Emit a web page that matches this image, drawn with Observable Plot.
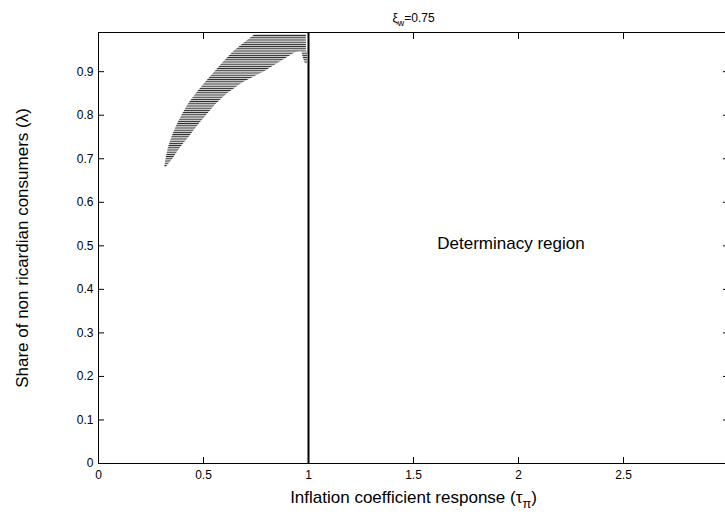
<!DOCTYPE html>
<html><head><meta charset="utf-8">
<script src="https://cdn.jsdelivr.net/npm/d3@7"></script>
<script src="https://cdn.jsdelivr.net/npm/@observablehq/plot@0.6"></script>
<style>html,body{margin:0;padding:0;background:#fff;overflow:hidden;}</style>
</head><body><div id="chart"></div>
<script>
// ---- data ----
const xTicks = [0, 0.5, 1, 1.5, 2, 2.5];
const yTicks = [0, 0.1, 0.2, 0.3, 0.4, 0.5, 0.6, 0.7, 0.8, 0.9];
const xDomain = [0, 3];
const yDomain = [0, 0.99];
// indeterminacy (hatched) region: for each lambda, tau from lower to upper
const lambdaRows = [0.68, 0.70, 0.725, 0.75, 0.775, 0.80, 0.825, 0.85, 0.875, 0.90, 0.92, 0.94, 0.944, 0.947, 0.96, 0.985];
const tauLower   = [0.315, 0.322, 0.333, 0.350, 0.372, 0.398, 0.428, 0.466, 0.51, 0.555, 0.592, 0.632, 0.64, 0.646, 0.68, 0.745];
const tauUpper   = [0.322, 0.355, 0.39, 0.432, 0.472, 0.515, 0.56, 0.615, 0.69, 0.79, 0.858, 0.925, 0.94, 0.99, 0.99, 0.99];
// small strip just left of tau = 1
const notchLambda = [0.918, 0.932, 0.946];
const notchLower  = [0.985, 0.975, 0.968];
const notchUpper  = [0.995, 0.995, 0.995];
const boundaryTau = [1];
const annotations = [{tau: 1.964, lambda: 0.5056, text: "Determinacy region"}];
const titleText = "ξ_{w}=0.75";
const xLabel = "Inflation coefficient response (τ_{π})";
const yLabel = "Share of non ricardian consumers (λ)";

const region = lambdaRows.map((l, i) => ({lambda: l, lo: tauLower[i], hi: tauUpper[i], part: "main"}))
  .concat(notchLambda.map((l, i) => ({lambda: l, lo: notchLower[i], hi: notchUpper[i], part: "notch"})));

const chart = Plot.plot({
  width: 725,
  height: 521,
  marginLeft: 98,
  marginRight: -3,
  marginTop: 32,
  marginBottom: 58,
  style: {fontFamily: "'Liberation Sans', Arial, Helvetica, sans-serif", background: "#fff", overflow: "hidden", color: "#000"},
  x: {domain: xDomain},
  y: {domain: yDomain},
  marks: [
    Plot.areaX(region, {y: "lambda", x1: "lo", x2: "hi", z: "part", fill: "url(#hatch)", curve: "linear"}),
    Plot.ruleX(boundaryTau, {x: d => d, stroke: "#000", strokeWidth: 2}),
    Plot.frame({stroke: "#000"}),
    Plot.axisX({anchor: "bottom", ticks: xTicks, tickSize: -6, tickFormat: () => "", label: null}),
    Plot.axisX({anchor: "top", ticks: xTicks, tickSize: -6, tickFormat: () => "", label: null}),
    Plot.axisY({anchor: "left", ticks: yTicks, tickSize: -6, tickFormat: () => "", label: null}),
    Plot.axisY({anchor: "right", ticks: yTicks, tickSize: -6, tickFormat: () => "", label: null}),
    Plot.axisX({anchor: "bottom", ticks: xTicks, tickSize: 0, tickPadding: 7, tickFormat: d => String(d), label: null, fontSize: 12}),
    Plot.axisY({anchor: "left", ticks: yTicks, tickSize: 0, tickPadding: 5, tickFormat: d => String(d), label: null, fontSize: 12}),
    Plot.text(annotations, {x: "tau", y: "lambda", text: "text", fontSize: 17, fill: "#000"}),
    Plot.text([xLabel], {frameAnchor: "bottom", textAnchor: "middle", dy: 39.5, text: d => d, fontSize: 17, fill: "#000"}),
    Plot.text([yLabel], {frameAnchor: "left", textAnchor: "middle", dx: -76.4, rotate: -90, text: d => d, fontSize: 17, fill: "#000"}),
    Plot.text([titleText], {frameAnchor: "top", textAnchor: "middle", dy: -19, text: d => d, fontSize: 12, fill: "#000"})
  ]
});

// hatch pattern for the indeterminacy region
const defs = d3.select(chart).insert("defs", ":first-child");
const pat = defs.append("pattern").attr("id", "hatch").attr("patternUnits", "userSpaceOnUse")
  .attr("width", 8).attr("height", 2.2);
pat.append("rect").attr("width", 8).attr("height", 2.2).attr("fill", "#cfcfcf");
pat.append("rect").attr("width", 8).attr("height", 0.8).attr("fill", "#222");

// turn _{...} into real subscripts
d3.select(chart).selectAll("text").each(function () {
  const t = this.textContent;
  const m = t.match(/^(.*)_\{(.+?)\}(.*)$/);
  if (!m) return;
  const sel = d3.select(this);
  sel.text(null);
  sel.append("tspan").text(m[1]);
  sel.append("tspan").attr("font-size", "75%").attr("dy", "0.4em").text(m[2]);
  sel.append("tspan").attr("dy", "-0.3em").text(m[3]);
});

document.getElementById("chart").appendChild(chart);
</script>
</body></html>
